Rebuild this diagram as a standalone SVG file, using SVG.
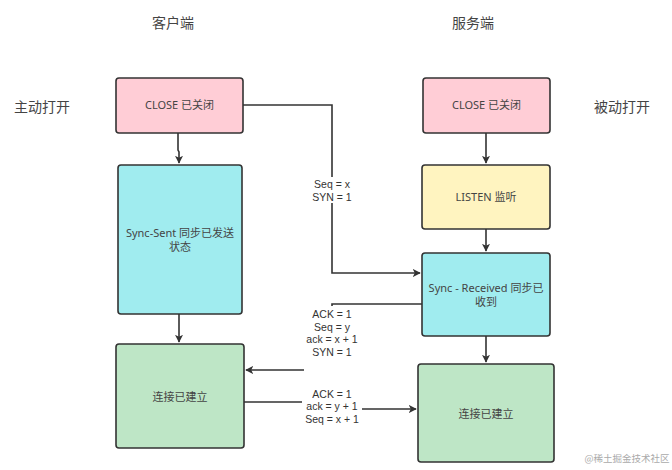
<svg xmlns="http://www.w3.org/2000/svg" width="672" height="470" viewBox="0 0 672 470">
<defs>
<marker id="ah" viewBox="0 0 10 10" refX="9" refY="5" markerWidth="8" markerHeight="8" markerUnits="userSpaceOnUse" orient="auto">
<path d="M0,0 L10,5 L0,10 L2.5,5 Z" fill="#333"/>
</marker>
<style>
.box{stroke:#333;stroke-width:1.6}
.pink{fill:#FFCDD6}.yellow{fill:#FFF4C0}.cyan{fill:#A0ECEF}.green{fill:#BEE6C6}
.t{font-family:"Noto Sans","Noto Sans CJK SC",sans-serif;font-size:11px;fill:#444;text-anchor:middle}
.h{font-family:"Noto Sans","Noto Sans CJK SC",sans-serif;font-size:14px;fill:#444;text-anchor:middle}
.lbl{font-family:"Liberation Sans",Arial,sans-serif;font-size:10.5px;fill:#333;text-anchor:middle}
.c{fill:none;stroke:#333;stroke-width:1.6}
.bg{fill:#fff}
</style>
</defs>
<rect width="672" height="470" fill="#fff"/>
<g id="titles">
<text class="h" x="173" y="28">客户端</text>
<text class="h" x="473" y="28">服务端</text>
<text class="h" x="42" y="112">主动打开</text>
<text class="h" x="622" y="112">被动打开</text>
</g>
<g id="connectors">
<path class="c" d="M178,133 L178,150 L179,152 L179,163" marker-end="url(#ah)"/>
<path class="c" d="M179,314 L179,342" marker-end="url(#ah)"/>
<path class="c" d="M486,133 L486,163" marker-end="url(#ah)"/>
<path class="c" d="M486,229 L486,251" marker-end="url(#ah)"/>
<path class="c" d="M486,336 L486,362" marker-end="url(#ah)"/>
<path class="c" d="M243,105 L332,105 L332,273 L420,273" marker-end="url(#ah)"/>
<path class="c" d="M422,304 L332,304 L332,370 L246,370" marker-end="url(#ah)"/>
<path class="c" d="M244,402 L332,402 L332,409 L416,409" marker-end="url(#ah)"/>
<rect class="bg" x="308" y="177" width="48" height="26"/>
<text class="lbl" x="332" y="188">Seq = x</text>
<text class="lbl" x="332" y="200.5">SYN = 1</text>
<rect class="bg" x="304" y="306" width="58" height="66"/>
<text class="lbl" x="332" y="318">ACK = 1</text>
<text class="lbl" x="332" y="330.5">Seq = y</text>
<text class="lbl" x="332" y="343">ack = x + 1</text>
<text class="lbl" x="332" y="355.5">SYN = 1</text>
<rect class="bg" x="302" y="387" width="60" height="38"/>
<text class="lbl" x="332" y="397.5">ACK = 1</text>
<text class="lbl" x="332" y="410">ack = y + 1</text>
<text class="lbl" x="332" y="422.5">Seq = x + 1</text>
</g>
<g id="client-close">
<rect class="box pink" x="116" y="78" width="127" height="55" rx="3"/>
<text class="t" x="179.5" y="109">CLOSE 已关闭</text>
</g>
<g id="client-syncsent">
<rect class="box cyan" x="118" y="165" width="124" height="149" rx="3"/>
<text class="t" x="180" y="237">Sync-Sent 同步已发送</text>
<text class="t" x="180" y="251">状态</text>
</g>
<g id="client-established">
<rect class="box green" x="116" y="344" width="128" height="104" rx="3"/>
<text class="t" x="180" y="401">连接已建立</text>
</g>
<g id="server-close">
<rect class="box pink" x="423" y="78" width="127" height="55" rx="3"/>
<text class="t" x="486.5" y="109">CLOSE 已关闭</text>
</g>
<g id="server-listen">
<rect class="box yellow" x="422" y="165" width="128" height="64" rx="3"/>
<text class="t" x="486" y="201">LISTEN 监听</text>
</g>
<g id="server-syncreceived">
<rect class="box cyan" x="422" y="253" width="128" height="83" rx="3"/>
<text class="t" x="486" y="292">Sync - Received 同步已</text>
<text class="t" x="486" y="306">收到</text>
</g>
<g id="server-established">
<rect class="box green" x="418" y="364" width="136" height="98" rx="3"/>
<text class="t" x="486" y="418">连接已建立</text>
</g>
<g id="watermark">
<text x="627" y="462" font-family="'Noto Sans CJK SC',sans-serif" font-size="9.5" fill="#aaa" text-anchor="middle">@稀土掘金技术社区</text>
</g>
</svg>
